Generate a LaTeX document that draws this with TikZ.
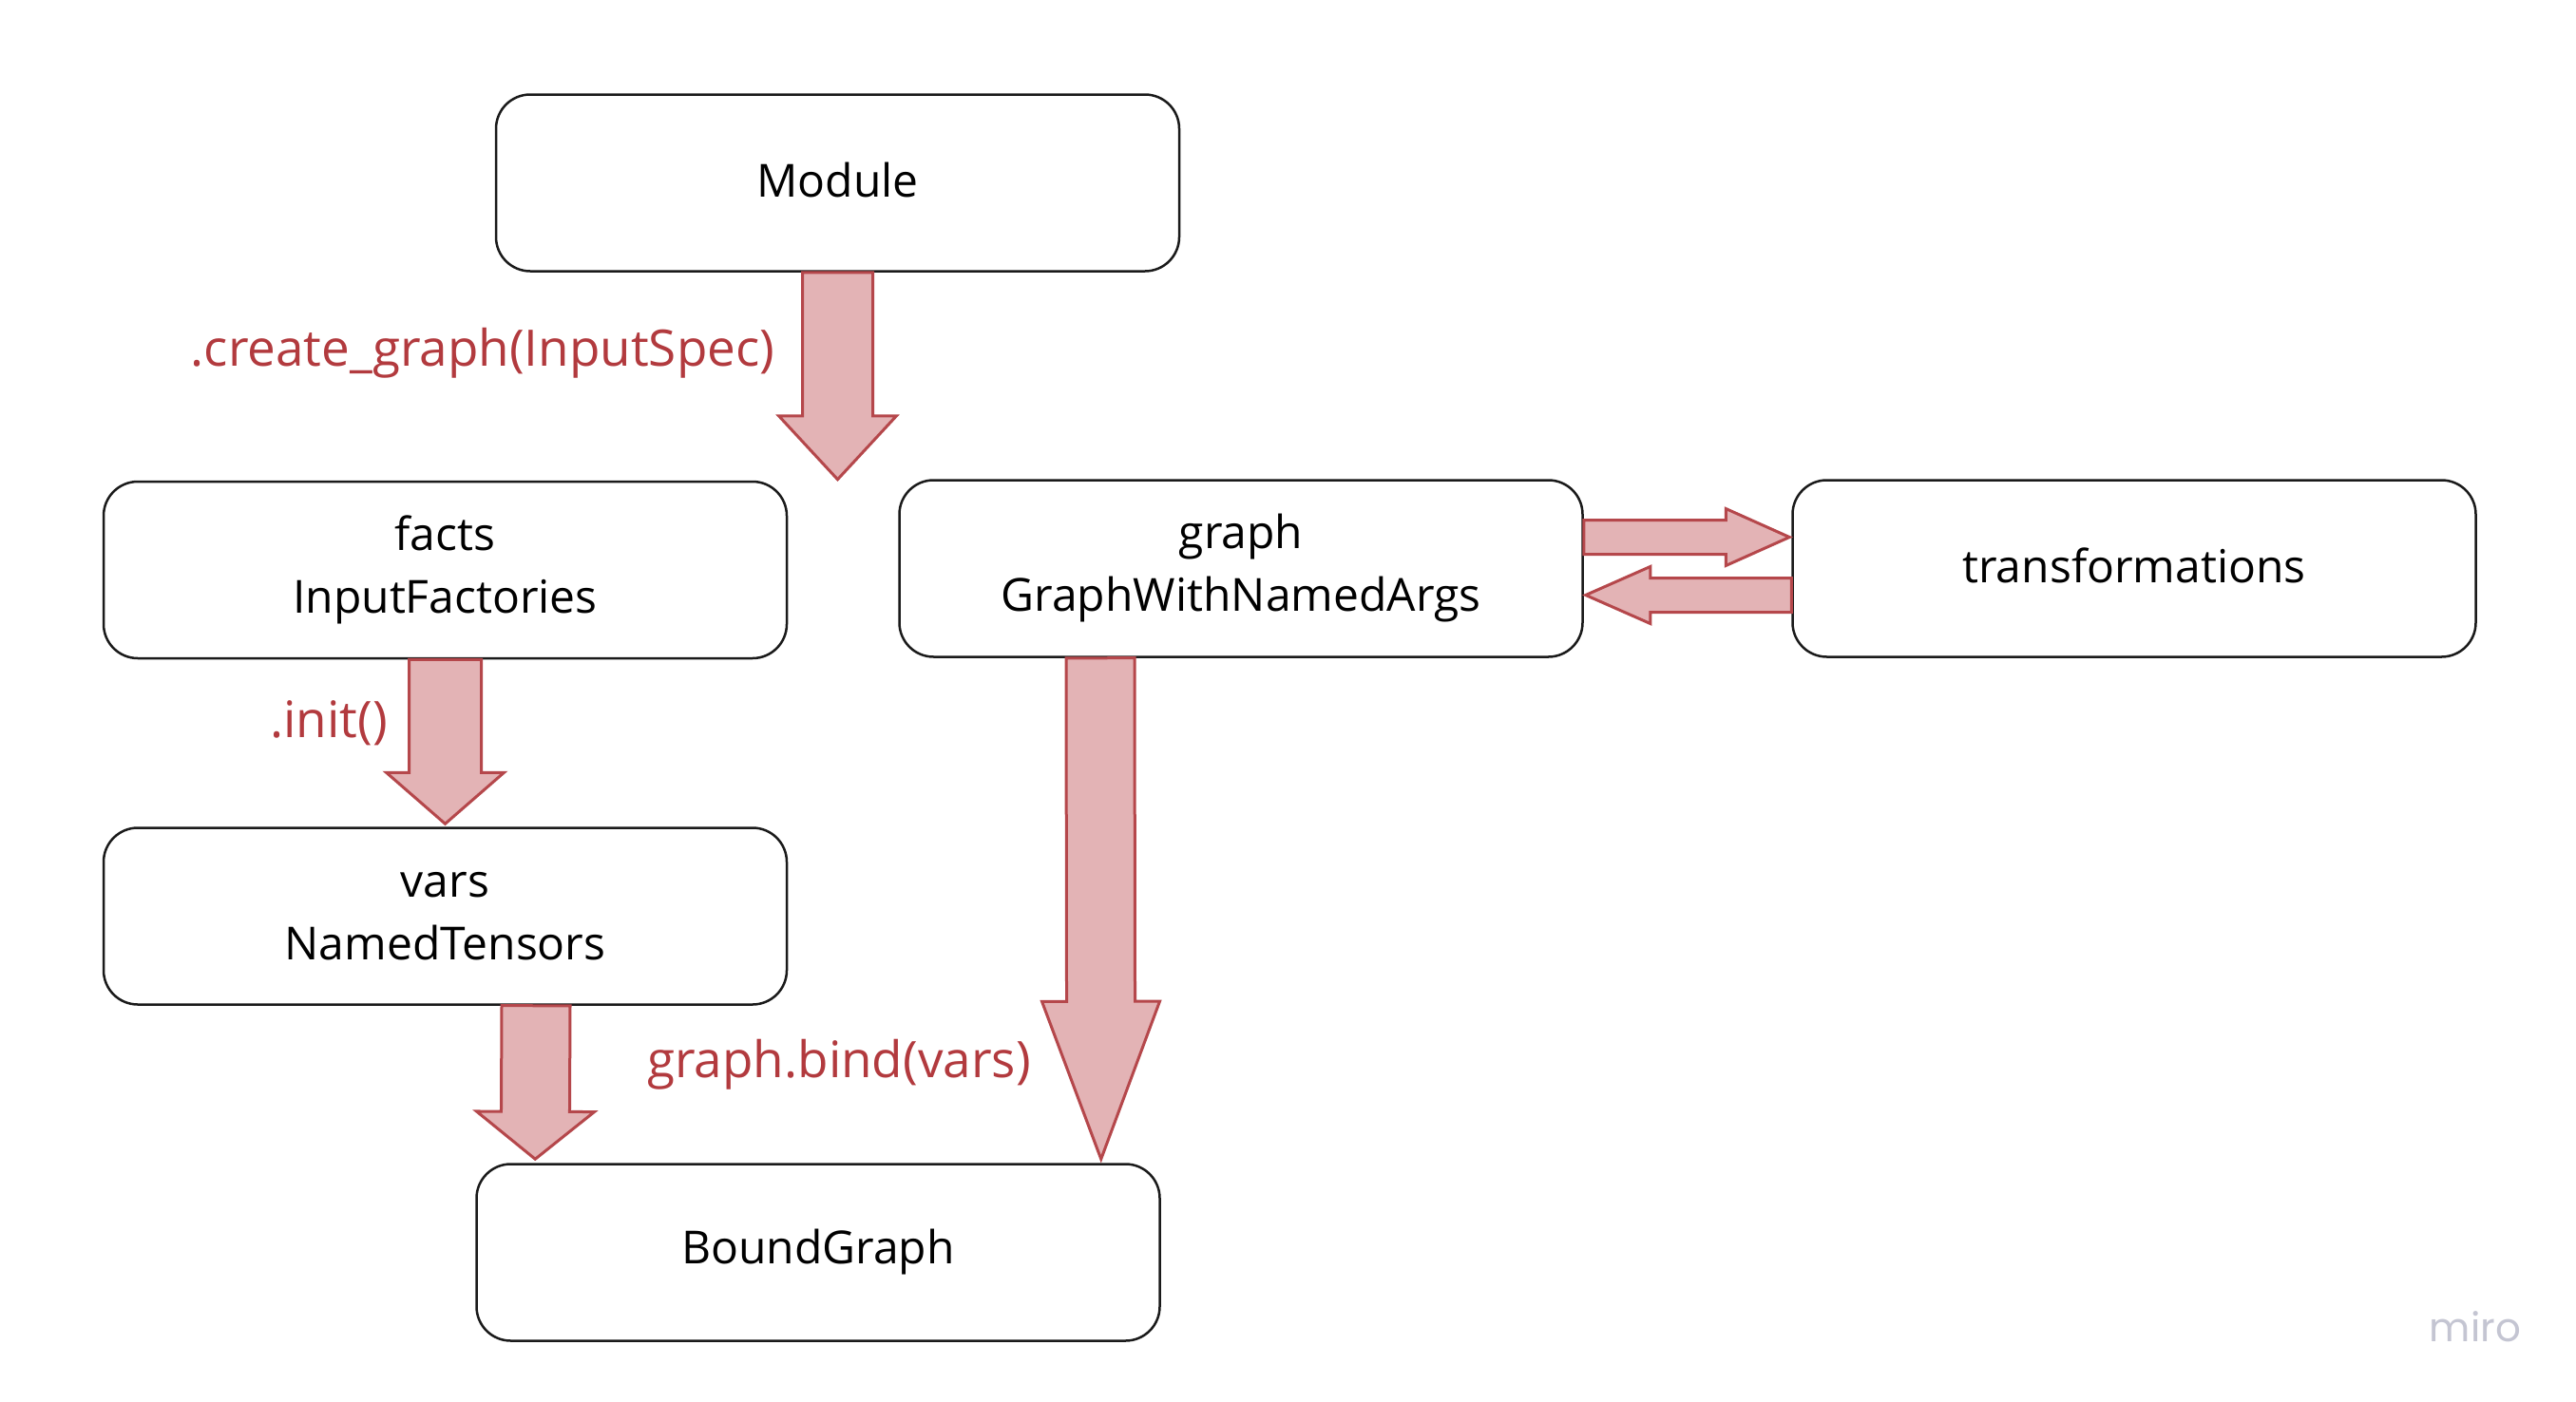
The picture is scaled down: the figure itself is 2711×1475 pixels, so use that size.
\documentclass[tikz,border=0pt]{standalone}
\usepackage{fontspec}
\setmainfont{Open Sans}
\newfontfamily\mirofont{Poppins}
\usetikzlibrary{calc}
\definecolor{boxline}{HTML}{1A1A1A}
\definecolor{arrfill}{HTML}{E3B3B5}
\definecolor{arrline}{HTML}{B5474B}
\definecolor{lblred}{HTML}{B23A3E}
\definecolor{mirogray}{HTML}{C4C5D2}
\tikzset{
  box/.style={draw=boxline, line width=2.5pt, fill=white, rounded corners=36pt,
    minimum width=719pt, minimum height=186pt, inner sep=0pt, align=center,
    font=\fontsize{48}{66}\selectfont, text=black},
  fatarr/.style={draw=arrline, fill=arrfill, line width=3pt, line join=miter},
  lbl/.style={text=lblred, font=\fontsize{53}{62}\selectfont, inner sep=0pt}
}
\newcommand\fatarrow[5]{%
  \coordinate (fa-b) at ($(#2)!#5!(#1)$);
  \draw[fatarr] ($(#1)!#3!90:(#2)$) -- ($(fa-b)!#3!90:(#2)$) -- ($(fa-b)!#4!90:(#2)$)
    -- (#2) -- ($(fa-b)!#4!-90:(#2)$) -- ($(fa-b)!#3!-90:(#2)$) -- ($(#1)!#3!-90:(#2)$) -- cycle;}
\newcommand\upby[1]{\raisebox{6pt}{#1}}
\begin{document}
\begin{tikzpicture}[x=1pt,y=-1pt]
\useasboundingbox[fill=white] (0,0) rectangle (2711,1475);
% boxes
\node[box] (module) at (881.5,192.5) {\upby{Module}};
\node[box] (facts) at (468.5,600) {facts\\InputFactories};
\node[box] (graph) at (1306,598.5) {graph\\GraphWithNamedArgs};
\node[box] (trans) at (2246,598.5) {\upby{transformations}};
\node[box] (vars) at (468.5,964.5) {vars\\NamedTensors};
\node[box] (bound) at (861,1318.5) {BoundGraph};
% arrow end points
\coordinate (a1s) at (module.south);
\coordinate (a1e) at ($(module.south)+(0,218)$);
\coordinate (a2s) at (facts.south);
\coordinate (a2e) at ($(vars.north)+(0,-3)$);
\coordinate (a3s) at ($(vars.south)+(95.5,0)$);
\coordinate (a3e) at ($(bound.north west)+(63,-4)$);
\coordinate (a4s) at ($(graph.south)+(-148,0)$);
\coordinate (a4e) at ($(bound.north east)+(-63,-4)$);
\coordinate (a5s) at ($(graph.east)+(0,-33)$);
\coordinate (a5e) at ($(trans.west)+(-2,-33)$);
\coordinate (a6s) at ($(trans.west)+(0,28)$);
\coordinate (a6e) at ($(graph.east)+(2,28)$);
% block arrows
\fatarrow{a1s}{a1e}{37pt}{62pt}{67pt}
\fatarrow{a2s}{a2e}{38pt}{62pt}{54pt}
\fatarrow{a3s}{a3e}{36pt}{62pt}{50pt}
\fatarrow{a4s}{a4e}{36pt}{62pt}{166pt}
\fatarrow{a5s}{a5e}{18pt}{30pt}{67pt}
\fatarrow{a6s}{a6e}{18pt}{30pt}{68pt}
% labels
\node[lbl] (l1) at (508,372) {.create\_graph(InputSpec)};
\node[lbl, anchor=east] (l2) at (408,761) {.init()};
\node[lbl] (l3) at (883,1121) {graph.bind(vars)};
\node[text=mirogray, font=\mirofont\fontsize{42}{48}\selectfont, inner sep=0pt] (miro) at (2605,1397) {miro};
\end{tikzpicture}
\end{document}
